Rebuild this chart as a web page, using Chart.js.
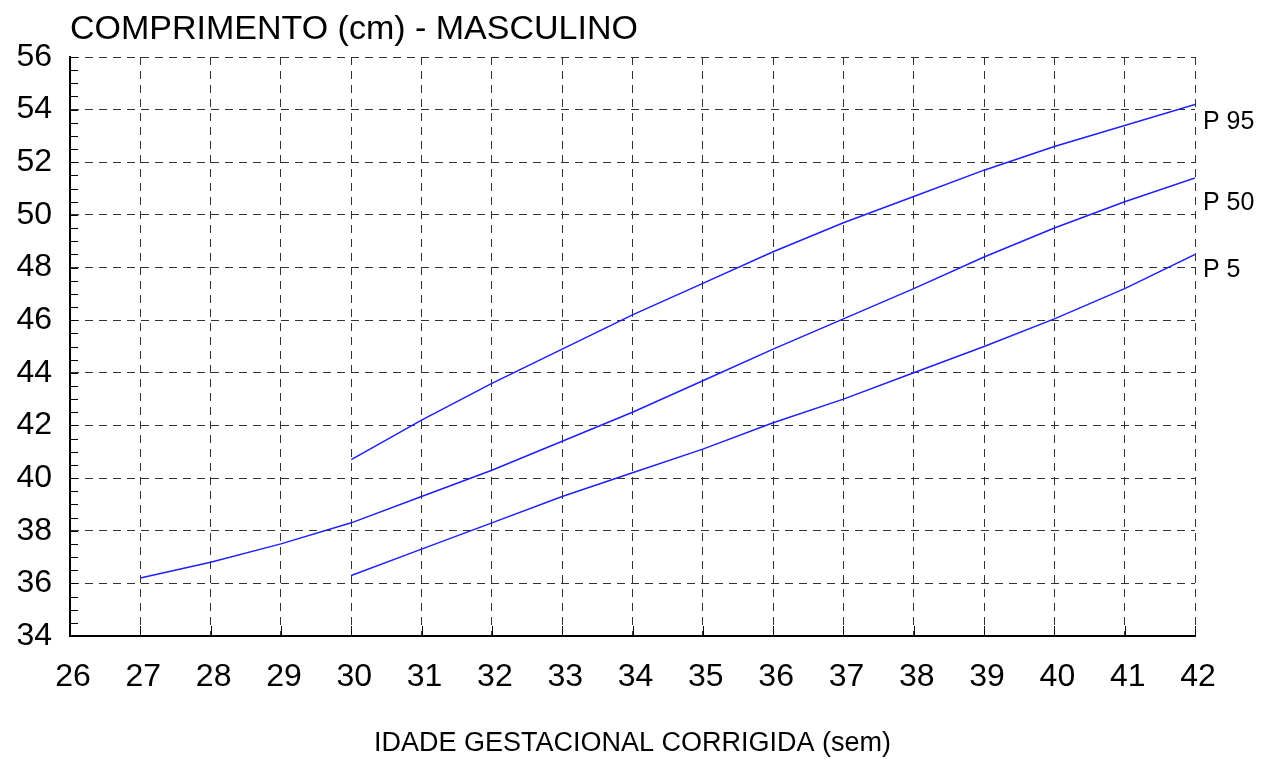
<!DOCTYPE html>
<html>
<head>
<meta charset="utf-8">
<title>Comprimento - Masculino</title>
<script src="https://cdn.jsdelivr.net/npm/chart.js@4/dist/chart.umd.min.js"></script>
<style>
  html, body { margin: 0; padding: 0; background: #fff; }
  #wrap { width: 1266px; height: 759px; }
</style>
</head>
<body>
<div id="wrap"><canvas id="chart" width="1266" height="759"></canvas></div>
<script>
// Curvas de comprimento (cm) por idade gestacional corrigida (semanas)
const weeksP95 = [30, 31, 32, 33, 34, 35, 36, 37, 38, 39, 40, 41, 42];
const lenP95 = [40.7, 42.2, 43.6, 44.9, 46.2, 47.4, 48.6, 49.7, 50.7, 51.7, 52.6, 53.4, 54.2];

const weeksP50 = [27, 28, 29, 30, 31, 32, 33, 34, 35, 36, 37, 38, 39, 40, 41, 42];
const lenP50 = [36.2, 36.8, 37.5, 38.3, 39.3, 40.3, 41.4, 42.5, 43.7, 44.9, 46.05, 47.2, 48.4, 49.5, 50.5, 51.4];

const weeksP5 = [30, 31, 32, 33, 34, 35, 36, 37, 38, 39, 40, 41, 42];
const lenP5 = [36.3, 37.3, 38.3, 39.3, 40.2, 41.1, 42.1, 43.0, 44.0, 45.0, 46.05, 47.2, 48.5];

const seriesNames = ['P 95', 'P 50', 'P 5'];
const xTicks = [26, 27, 28, 29, 30, 31, 32, 33, 34, 35, 36, 37, 38, 39, 40, 41, 42];
const yTicks = [34, 36, 38, 40, 42, 44, 46, 48, 50, 52, 54, 56];

const chartTitle = 'COMPRIMENTO (cm) - MASCULINO';
const xTitle = 'IDADE GESTACIONAL CORRIGIDA (sem)';

const FONT = "'Liberation Sans', Arial, sans-serif";
const BLUE = '#1f1fff';

function toPoints(xs, ys) {
  return xs.map((x, i) => ({ x: x, y: ys[i] }));
}

// title, inner ticks and the P labels at the end of each curve
const extras = {
  id: 'extras',
  afterDraw(chart) {
    const ctx = chart.ctx;
    const xs = chart.scales.x;
    const ys = chart.scales.y;
    const area = chart.chartArea;
    ctx.save();

    // title
    ctx.fillStyle = '#000';
    ctx.font = '34px ' + FONT;
    ctx.textAlign = 'left';
    ctx.textBaseline = 'middle';
    ctx.fillText(chartTitle, area.left, 30);

    // inward ticks on y axis (every 0.5) and x axis
    ctx.strokeStyle = '#000';
    ctx.lineWidth = 1;
    ctx.beginPath();
    for (let v = ys.min; v <= ys.max + 0.001; v += 0.5) {
      const py = Math.round(ys.getPixelForValue(v)) + 0.5;
      ctx.moveTo(area.left, py);
      ctx.lineTo(area.left + 8, py);
    }
    xTicks.forEach(t => {
      const px = Math.round(xs.getPixelForValue(t)) + 0.5;
      ctx.moveTo(px, area.bottom);
      ctx.lineTo(px, area.bottom - 10);
    });
    ctx.stroke();

    // curve labels
    const offsets = [18, 25, 16];
    ctx.font = '25px ' + FONT;
    chart.data.datasets.forEach((ds, i) => {
      const meta = chart.getDatasetMeta(i);
      const last = meta.data[meta.data.length - 1];
      ctx.fillText(ds.label, last.x + 8, last.y + offsets[i]);
    });
    ctx.restore();
  }
};

new Chart(document.getElementById('chart'), {
  type: 'line',
  data: {
    datasets: [
      { label: seriesNames[0], data: toPoints(weeksP95, lenP95) },
      { label: seriesNames[1], data: toPoints(weeksP50, lenP50) },
      { label: seriesNames[2], data: toPoints(weeksP5, lenP5) }
    ].map(d => Object.assign(d, {
      borderColor: BLUE,
      borderWidth: 1.5,
      pointRadius: 0,
      tension: 0,
      fill: false
    }))
  },
  options: {
    responsive: false,
    animation: false,
    layout: { padding: { top: 57, right: 71, left: 0, bottom: 0 } },
    plugins: {
      legend: { display: false },
      tooltip: { enabled: false }
    },
    scales: {
      x: {
        type: 'linear',
        min: 26,
        max: 42,
        afterBuildTicks: s => { s.ticks = xTicks.map(v => ({ value: v })); },
        afterFit: s => { s.height = 123; },
        grid: { color: '#333', lineWidth: 1, drawTicks: false },
        border: { display: true, color: '#000', width: 2, dash: [8, 6] },
        ticks: { color: '#000', font: { family: FONT, size: 32 }, padding: 22, labelOffset: 3, maxRotation: 0 },
        title: {
          display: true,
          text: xTitle,
          color: '#000',
          font: { family: FONT, size: 27, lineHeight: 1 },
          padding: { top: 0, bottom: 2 }
        }
      },
      y: {
        min: 34,
        max: 56,
        afterBuildTicks: s => { s.ticks = yTicks.map(v => ({ value: v })); },
        afterFit: s => { s.width = 70; },
        grid: { color: '#333', lineWidth: 1, drawTicks: false },
        border: { display: true, color: '#000', width: 2, dash: [8, 6] },
        ticks: { color: '#000', font: { family: FONT, size: 32 }, padding: 18 }
      }
    }
  },
  plugins: [extras]
});
</script>
</body>
</html>
